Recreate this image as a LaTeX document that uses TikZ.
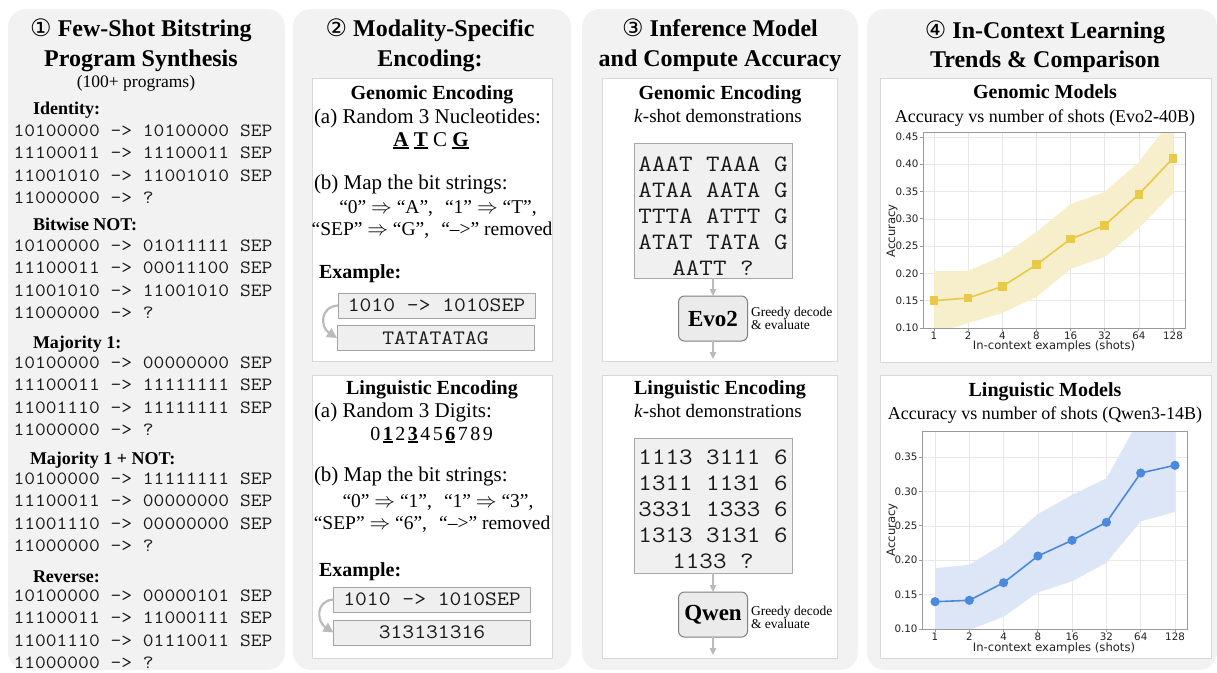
\documentclass[tikz,border=0pt]{standalone}
\usepackage{fontspec}
\setmainfont{Liberation Serif}
\setmonofont{Latin Modern Mono}[FakeStretch=1.12]
\newfontfamily\djs{DejaVu Sans}
\usetikzlibrary{arrows.meta,calc}
\definecolor{panelgray}{HTML}{F2F2F2}
\definecolor{boxline}{HTML}{D8D8D8}
\definecolor{sbfill}{HTML}{EFEFEF}
\definecolor{sbline}{HTML}{A4A4A4}
\definecolor{gbfill}{HTML}{F0F0F0}
\definecolor{gbline}{HTML}{A8A8A8}
\definecolor{mfill}{HTML}{EBEBEB}
\definecolor{mline}{HTML}{7F7F7F}
\definecolor{arrgray}{HTML}{BBBBBB}
\definecolor{gyel}{HTML}{E8CA48}
\definecolor{gyelband}{HTML}{F7EFCB}
\definecolor{qblue}{HTML}{4A89DC}
\definecolor{qband}{HTML}{DCE6F6}
\definecolor{gridc}{HTML}{E8E8E8}
\definecolor{spinec}{HTML}{999999}
\definecolor{labc}{HTML}{222222}
\definecolor{codec}{HTML}{1A1A1A}
\newcommand{\fsz}[1]{\fontsize{#1}{#1}\selectfont}
\newcommand{\myul}[1]{\setbox0=\hbox{\bfseries #1}\rlap{\rule[-2.8pt]{\wd0}{1.6pt}}\box0\relax}
\tikzset{
  every node/.style={inner sep=0pt, outer sep=0pt},
  ttl/.style={font=\fsz{24}\bfseries, anchor=base},
  lbl/.style={font=\fsz{18}\bfseries, anchor=base west},
  code/.style={font=\fsz{18.7}\ttfamily, anchor=base west, text=codec},
  hd/.style={font=\fsz{20}\bfseries, anchor=base},
  body/.style={font=\fsz{21}, anchor=base west},
  bodyc/.style={font=\fsz{21}, anchor=base},
  mapl/.style={font=\fsz{19.5}, anchor=base},
  exbox/.style={draw=sbline, fill=sbfill, line width=1pt, minimum width=197pt, minimum height=25pt, font=\fsz{20.5}\ttfamily, text=codec},
  wbox/.style={draw=boxline, fill=white, line width=1pt},
  graybox/.style={draw=gbline, fill=gbfill, line width=1pt},
  demo/.style={font=\fsz{23.5}\ttfamily, anchor=base, text=codec},
  model/.style={draw=mline, fill=mfill, rounded corners=6pt, line width=1pt, minimum width=69pt, minimum height=45pt, font=\fsz{23}\bfseries},
  notetxt/.style={font=\fsz{13.5}, anchor=base west},
  varrow/.style={-{Triangle[length=7pt,width=6.5pt]}, draw=arrgray, line width=1.3pt},
  cvarrow/.style={-{Triangle[length=10pt,width=10pt]}, draw=arrgray, line width=2.2pt},
  ticklab/.style={font=\djs\fsz{10.3}, text=labc},
  axlab/.style={font=\djs\fsz{11.6}, text=labc},
  gridline/.style={draw=gridc, line width=0.6pt},
  spine/.style={draw=spinec, line width=0.8pt},
}
\begin{document}
\begin{tikzpicture}[x=1pt,y=-1pt]
\useasboundingbox (0,0) rectangle (1217,672);
\fill[white] (0,0) rectangle (1217,672);
% panels
\fill[panelgray, rounded corners=18pt] (8,9) rectangle (285,670);
\fill[panelgray, rounded corners=18pt] (293,9) rectangle (571,670);
\fill[panelgray, rounded corners=18pt] (582,9) rectangle (858,670);
\fill[panelgray, rounded corners=18pt] (867,9) rectangle (1217,670);

% ---------- Panel 1 ----------
\node[ttl] (t1a) at (141,36) {{\djs\mdseries ①} Few-Shot Bitstring};
\node[ttl] (t1b) at (141,66) {Program Synthesis};
\node[font=\fsz{17.5}, anchor=base] (t1c) at (136,87) {(100+ programs)};

\node[lbl] (lid) at (33,114) {Identity:};
\foreach \s [count=\i] in {10100000 -> 10100000 SEP,11100011 -> 11100011 SEP,11001010 -> 11001010 SEP,11000000 -> ?}
  \node[code] (id\i) at (13.5,{136.5+22.4*(\i-1)}) {\s};
\node[lbl] (lnot) at (33,230) {Bitwise NOT:};
\foreach \s [count=\i] in {10100000 -> 01011111 SEP,11100011 -> 00011100 SEP,11001010 -> 11001010 SEP,11000000 -> ?}
  \node[code] (nt\i) at (13.5,{251.5+22.4*(\i-1)}) {\s};
\node[lbl] (lmaj) at (33,348) {Majority 1:};
\foreach \s [count=\i] in {10100000 -> 00000000 SEP,11100011 -> 11111111 SEP,11001110 -> 11111111 SEP,11000000 -> ?}
  \node[code] (mj\i) at (13.5,{368.5+22.4*(\i-1)}) {\s};
\node[lbl] (lmajn) at (30,464) {Majority 1 + NOT:};
\foreach \s [count=\i] in {10100000 -> 11111111 SEP,11100011 -> 00000000 SEP,11001110 -> 00000000 SEP,11000000 -> ?}
  \node[code] (mn\i) at (13.5,{484.5+22.4*(\i-1)}) {\s};
\node[lbl] (lrev) at (33,582) {Reverse:};
\foreach \s [count=\i] in {10100000 -> 00000101 SEP,11100011 -> 11000111 SEP,11001110 -> 01110011 SEP,11000000 -> ?}
  \node[code] (rv\i) at (13.5,{601.5+22.4*(\i-1)}) {\s};

% ---------- Panel 2 ----------
\node[ttl] (t2a) at (430,36) {{\djs\mdseries ②} Modality-Specific};
\node[ttl] (t2b) at (430,66) {Encoding:};
\draw[wbox] (312,78) rectangle (552,361);
\node[hd] (ge) at (432,99.6) {Genomic Encoding};
\node[body] (gea) at (314,123) {(a) Random 3 Nucleotides:};
\node[bodyc] (gel) at (431,146) {\myul{A} \myul{T} C \myul{G}};
\node[body] (geb) at (314,189) {(b) Map the bit strings:};
\node[mapl] (gem1) at (438,213.5) {“0” $\Rightarrow$ “A”,\hspace{12pt}“1” $\Rightarrow$ “T”,};
\node[mapl] (gem2) at (432,235) {“SEP” $\Rightarrow$ “G”,\hspace{12pt}“–>” removed};
\node[hd, anchor=base west] (gex) at (319,278.6) {Example:};
\node[exbox] (gb1) at (436.5,305.5) {1010 -> 1010SEP};
\node[exbox, minimum height=24.5pt] (gb2) at (435.5,338) {TATATATAG};
\draw[cvarrow] (gb1.west) .. controls +(-18,1) and +(-17,-11) .. (gb2.west);

\draw[wbox] (312,375) rectangle (552,658);
\node[hd] (le) at (432,394.6) {Linguistic Encoding};
\node[body] (lea) at (314,417) {(a) Random 3 Digits:};
\node[font=\fsz{20}, anchor=base] (led) at (431.5,440) {0\hspace{2.5pt}\myul{1}\hspace{2.5pt}2\hspace{2.5pt}\myul{3}\hspace{2.5pt}4\hspace{2.5pt}5\hspace{2.5pt}\myul{6}\hspace{2.5pt}7\hspace{2.5pt}8\hspace{2.5pt}9};
\node[body] (leb) at (314,481) {(b) Map the bit strings:};
\node[mapl] (lem1) at (438,507) {“0” $\Rightarrow$ “1”,\hspace{12pt}“1” $\Rightarrow$ “3”,};
\node[mapl] (lem2) at (432,529.5) {“SEP” $\Rightarrow$ “6”,\hspace{12pt}“–>” removed};
\node[hd, anchor=base west] (lex) at (319,576.6) {Example:};
\node[exbox] (lb1) at (432,599.5) {1010 -> 1010SEP};
\node[exbox] (lb2) at (432,632.5) {313131316};
\draw[cvarrow] (lb1.west) .. controls +(-18,1) and +(-17,-11) .. (lb2.west);

% ---------- Panel 3 ----------
\node[ttl] (t3a) at (720,36) {{\djs\mdseries ③} Inference Model};
\node[ttl] (t3b) at (720,66) {and Compute Accuracy};
\draw[wbox] (602,78) rectangle (837,361);
\node[hd] (ige) at (720,99.6) {Genomic Encoding};
\node[font=\fsz{19}, anchor=base] (igk) at (718,122.3) {\textit{k}-shot demonstrations};
\node[graybox, minimum width=158pt, minimum height=135pt] (gdemo) at (713,210.5) {};
\foreach \s [count=\i] in {AAAT TAAA G,ATAA AATA G,TTTA ATTT G,ATAT TATA G,AATT ?}
  \node[demo] (gd\i) at (713,{171.5+26*(\i-1)}) {\s};
\node[model] (evo) at (713,318.5) {Evo2};
\coordinate (evoout) at (713,359);
\draw[varrow] (gdemo.south) -- (evo.north);
\draw[varrow] (evo.south) -- (evoout);
\node[notetxt] (evn1) at (751,316) {Greedy decode};
\node[notetxt] (evn2) at (751,329) {\& evaluate};

\draw[wbox] (602,375) rectangle (837,658);
\node[hd] (ile) at (720,394.6) {Linguistic Encoding};
\node[font=\fsz{19}, anchor=base] (ilk) at (718,417.3) {\textit{k}-shot demonstrations};
\node[graybox, minimum width=158pt, minimum height=135pt] (ldemo) at (713,505.5) {};
\foreach \s [count=\i] in {1113 3111 6,1311 1131 6,3331 1333 6,1313 3131 6,1133 ?}
  \node[demo] (ld\i) at (713,{464+26*(\i-1)}) {\s};
\node[model] (qwen) at (713,614.5) {Qwen};
\coordinate (qwenout) at (713,655);
\draw[varrow] (ldemo.south) -- (qwen.north);
\draw[varrow] (qwen.south) -- (qwenout);
\node[notetxt] (qwn1) at (751,615) {Greedy decode};
\node[notetxt] (qwn2) at (751,628) {\& evaluate};

% ---------- Panel 4 ----------
\node[ttl] (t4a) at (1045,38) {{\djs\mdseries ④} In-Context Learning};
\node[ttl] (t4b) at (1045,67) {Trends \& Comparison};

% chart 1
\draw[wbox] (880,78) rectangle (1211,362);
\node[hd] (cg) at (1045,98.6) {Genomic Models};
\node[font=\fsz{18}, anchor=base] (cgs) at (1045,122) {Accuracy vs number of shots (Evo2-40B)};
\foreach \k/\lab in {0/0.10,1/0.15,2/0.20,3/0.25,4/0.30,5/0.35,6/0.40,7/0.45}{
  \pgfmathsetmacro\yy{328-27.3*\k}
  \draw[gridline] (923,\yy) -- (1185,\yy);
  \draw[spine] (920,\yy) -- (923,\yy);
  \node[ticklab, anchor=east] (ay\k) at (918.5,\yy) {\lab};
}
\foreach \k/\lab in {0/1,1/2,2/4,3/8,4/16,5/32,6/64,7/128}{
  \pgfmathsetmacro\xx{934+34.14*\k}
  \draw[gridline] (\xx,132) -- (\xx,328);
  \draw[spine] (\xx,328) -- (\xx,331);
  \node[ticklab, anchor=north] (ax\k) at (\xx,332) {\lab};
}
\begin{scope}
\clip (923,132) rectangle (1185,328);
\fill[gyelband] (934,271) -- (968.1,271) -- (1002.3,256) -- (1036.4,232) -- (1070.6,204) -- (1104.7,192) -- (1138.9,162) -- (1173,118)
  -- (1173,193) -- (1138.9,228) -- (1104.7,257) -- (1070.6,269) -- (1036.4,297) -- (1002.3,313) -- (968.1,323) -- (934,334) -- cycle;
\end{scope}
\draw[gyel, line width=1.6pt] (934,300.7) -- (968.1,298) -- (1002.3,286.5) -- (1036.4,264.7) -- (1070.6,239) -- (1104.7,225.4) -- (1138.9,194.2) -- (1173,158.2);
\foreach \x/\y in {934/300.7,968.1/298,1002.3/286.5,1036.4/264.7,1070.6/239,1104.7/225.4,1138.9/194.2,1173/158.2}
  \fill[gyel] ({\x-4.3},{\y-4.3}) rectangle ({\x+4.3},{\y+4.3});
\draw[spine] (923,132) rectangle (1185,328);
\node[axlab, anchor=base] (c1xl) at (1054,349) {In-context examples (shots)};
\node[axlab, rotate=90] (c1yl) at (892,231) {Accuracy};

% chart 2
\draw[wbox] (880,375) rectangle (1211,658);
\node[hd] (cl) at (1045,396.6) {Linguistic Models};
\node[font=\fsz{18}, anchor=base] (cls) at (1045,419) {Accuracy vs number of shots (Qwen3-14B)};
\foreach \k/\lab in {0/0.10,1/0.15,2/0.20,3/0.25,4/0.30,5/0.35}{
  \pgfmathsetmacro\yy{629-34.4*\k}
  \draw[gridline] (922,\yy) -- (1187,\yy);
  \draw[spine] (919,\yy) -- (922,\yy);
  \node[ticklab, anchor=east] (by\k) at (917.5,\yy) {\lab};
}
\foreach \k/\lab in {0/1,1/2,2/4,3/8,4/16,5/32,6/64,7/128}{
  \pgfmathsetmacro\xx{935+34.29*\k}
  \draw[gridline] (\xx,431) -- (\xx,629);
  \draw[spine] (\xx,629) -- (\xx,632);
  \node[ticklab, anchor=north] (bx\k) at (\xx,633) {\lab};
}
\begin{scope}
\clip (922,431) rectangle (1187,629);
\fill[qband] (935,568.3) -- (969.3,564.7) -- (1003.6,543.7) -- (1037.9,514) -- (1072.1,495) -- (1106.4,478.3) -- (1140.7,417) -- (1175,400)
  -- (1175,512) -- (1140.7,521.3) -- (1106.4,562.7) -- (1072.1,581.3) -- (1037.9,592.3) -- (1003.6,616.7) -- (969.3,630) -- (935,640) -- cycle;
\end{scope}
\draw[qblue, line width=1.6pt] (935,601.7) -- (969.3,600.3) -- (1003.6,582.7) -- (1037.9,556) -- (1072.1,540.3) -- (1106.4,522.3) -- (1140.7,473) -- (1175,465.3);
\foreach \x/\y in {935/601.7,969.3/600.3,1003.6/582.7,1037.9/556,1072.1/540.3,1106.4/522.3,1140.7/473,1175/465.3}
  \fill[qblue] (\x,\y) circle (4.6pt);
\draw[spine] (922,431) rectangle (1187,629);
\node[axlab, anchor=base] (c2xl) at (1054,651) {In-context examples (shots)};
\node[axlab, rotate=90] (c2yl) at (892,530) {Accuracy};
\end{tikzpicture}
\end{document}
